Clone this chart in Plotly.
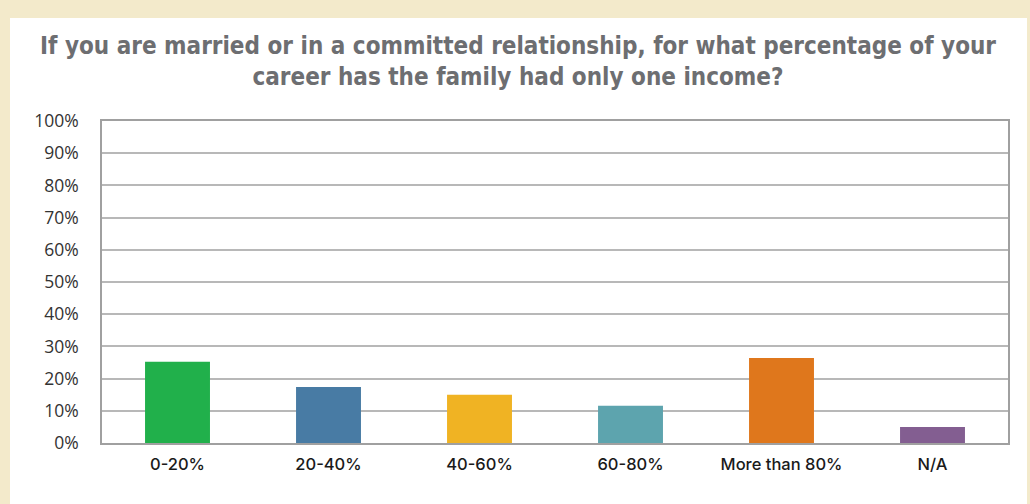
import plotly.graph_objects as go

categories = ["0-20%", "20-40%", "40-60%", "60-80%", "More than 80%", "N/A"]
values = [25.2, 17.4, 15.0, 11.6, 26.4, 5.0]
colors = ["#21B04B", "#487BA4", "#F0B323", "#5DA4AE", "#DF771C", "#835E91"]
y_ticks = [0, 10, 20, 30, 40, 50, 60, 70, 80, 90, 100]
y_tick_labels = [f"{v}%" for v in y_ticks]
title = ("If you are married or in a committed relationship, for what percentage of your<br>"
         "career has the family had only one income?")

fig = go.Figure(go.Bar(
    x=categories, y=values, marker_color=colors, marker_line_width=0, width=0.43,
    hoverinfo="x+y",
))

W, H = 1030, 504
L, R, T, B = 102, 22, 121, 61
pw, ph = W - L - R, H - T - B

def px_x(p):
    return (p - L) / pw

def px_y(p):
    return (H - B - p) / ph

fig.add_shape(type="rect", xref="paper", yref="paper",
              x0=px_x(10), x1=px_x(1027), y0=px_y(520), y1=px_y(18),
              fillcolor="white", line_width=0, layer="below")

fig.update_layout(
    width=W, height=H,
    margin=dict(l=L, r=R, t=T, b=B),
    paper_bgcolor="#F3EACB",
    plot_bgcolor="white",
    showlegend=False,
    bargap=0.57,
    title=dict(
        text=title, x=px_x(518), xanchor="center", xref="paper",
        y=1 - 54 / H, yanchor="middle",
        font=dict(family="DejaVu Sans Condensed", size=24, color="#6D6E71", weight="bold"),
    ),
    xaxis=dict(
        showline=True, linecolor="#A0A0A0", linewidth=1.5, mirror=True,
        showgrid=False, ticks="",
        tickfont=dict(family="Inter", size=16.5, color="#1A1A1A", weight=500),
        ticklabelstandoff=5,
    ),
    yaxis=dict(
        range=[0, 100], tickvals=y_ticks, ticktext=y_tick_labels,
        showline=True, linecolor="#A0A0A0", linewidth=1.5, mirror=True,
        showgrid=True, gridcolor="#B8B8B8", gridwidth=1.5,
        zeroline=False, ticks="",
        tickfont=dict(family="Open Sans", size=17.5, color="#333333"),
        ticklabelstandoff=18,
    ),
)

fig.write_html("out.html")
